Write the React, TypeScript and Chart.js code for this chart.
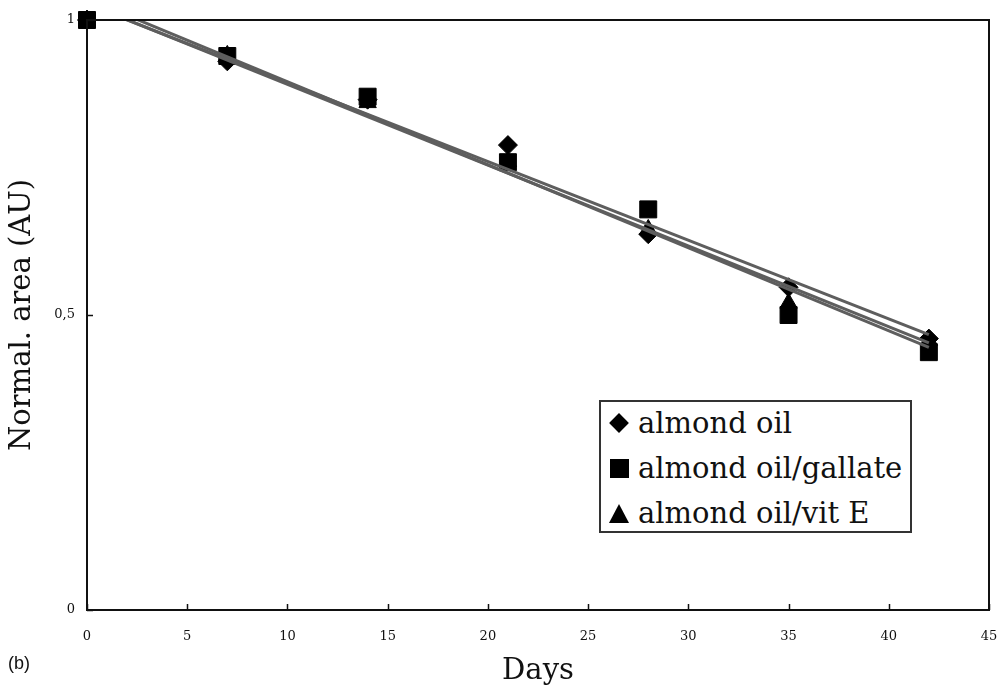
import React, { useEffect, useRef } from "react";
import { Chart, registerables } from "chart.js";

Chart.register(...registerables);

const days = [0, 7, 14, 21, 28, 35, 42];
const almondOil = [1, 0.93, 0.865, 0.788, 0.637, 0.547, 0.46];
const almondGallate = [1, 0.939, 0.87, 0.759, 0.679, 0.5, 0.437];
const almondVitE = [1, 0.94, 0.86, 0.76, 0.645, 0.52, 0.457];
const seriesNames = ["almond oil", "almond oil/gallate", "almond oil/vit E"];
const xTicks = [0, 5, 10, 15, 20, 25, 30, 35, 40, 45];
const yTicks = [0, 0.5, 1];

const SERIF = "'DejaVu Serif', 'Liberation Serif', serif";

function fitLine(xs: number[], ys: number[]) {
  const n = xs.length;
  const mx = xs.reduce((a, b) => a + b, 0) / n;
  const my = ys.reduce((a, b) => a + b, 0) / n;
  let sxy = 0;
  let sxx = 0;
  for (let i = 0; i < n; i++) {
    sxy += (xs[i] - mx) * (ys[i] - my);
    sxx += (xs[i] - mx) * (xs[i] - mx);
  }
  const b = sxy / sxx;
  const a = my - b * mx;
  const x0 = xs[0];
  const x1 = xs[n - 1];
  return [
    { x: x0, y: a + b * x0 },
    { x: x1, y: a + b * x1 },
  ];
}

const pts = (ys: number[]) => days.map((d, i) => ({ x: d, y: ys[i] }));

const frame = {
  id: "frame",
  afterDatasetsDraw(chart: any) {
    const { ctx, chartArea, scales } = chart;
    ctx.save();
    ctx.strokeStyle = "#111";
    ctx.lineWidth = 2;
    ctx.strokeRect(chartArea.left, chartArea.top, chartArea.right - chartArea.left, chartArea.bottom - chartArea.top);
    ctx.lineWidth = 1.5;
    ctx.beginPath();
    xTicks.forEach((t) => {
      const px = Math.round(scales.x.getPixelForValue(t)) + 0.5;
      ctx.moveTo(px, chartArea.bottom);
      ctx.lineTo(px, chartArea.bottom - 6);
    });
    yTicks.forEach((t) => {
      const py = Math.round(scales.y.getPixelForValue(t)) + 0.5;
      ctx.moveTo(chartArea.left, py);
      ctx.lineTo(chartArea.left + 6, py);
    });
    ctx.stroke();
    ctx.restore();
  },
};

export default function App() {
  const ref = useRef<HTMLCanvasElement | null>(null);
  useEffect(() => {
    if (!ref.current) return;
    const lineStyle = (data: any) => ({
      type: "line" as const,
      data,
      borderColor: "#5e5e5e",
      borderWidth: 3,
      pointRadius: 0,
      fill: false,
      showLine: true,
    });
    const markerStyle = (data: any, style: string, r: number, label: string) => ({
      type: "scatter" as const,
      label,
      data,
      pointStyle: style,
      pointRadius: r,
      pointBackgroundColor: "#000",
      pointBorderColor: "#000",
      pointBorderWidth: 1,
      showLine: false,
      clip: false,
    });
    const chart = new Chart(ref.current, {
      type: "scatter",
      data: {
        datasets: [
          lineStyle(fitLine(days, almondOil)),
          lineStyle(fitLine(days, almondGallate)),
          lineStyle(fitLine(days, almondVitE)),
          markerStyle(pts(almondOil), "rectRot", 9.5, seriesNames[0]),
          markerStyle(pts(almondVitE), "triangle", 10, seriesNames[2]),
          markerStyle(pts(almondGallate), "rect", 12, seriesNames[1]),
        ] as any,
      },
      options: {
        animation: false,
        responsive: false,
        layout: { padding: { top: 20, right: 14, left: 0, bottom: 0 } },
        plugins: { legend: { display: false }, tooltip: { enabled: false } },
        scales: {
          x: {
            type: "linear",
            min: 0,
            max: 45,
            afterBuildTicks: (s: any) => {
              s.ticks = xTicks.map((v) => ({ value: v }));
            },
            afterFit: (s: any) => {
              s.height = 80;
              s.paddingLeft = 0;
              s.paddingRight = 0;
            },
            grid: { display: false, drawTicks: false },
            border: { display: false },
            ticks: {
              color: "#111",
              padding: 19,
              maxRotation: 0,
              font: { family: SERIF, size: 13 },
              callback: (v: any) => String(v),
            },
            title: {
              display: true,
              text: "Days",
              color: "#111",
              font: { family: SERIF, size: 29 },
              padding: { top: 0, bottom: 1 },
            },
          },
          y: {
            type: "linear",
            min: 0,
            max: 1,
            afterBuildTicks: (s: any) => {
              s.ticks = yTicks.map((v) => ({ value: v }));
            },
            afterFit: (s: any) => {
              s.width = 87;
              s.paddingTop = 0;
              s.paddingBottom = 0;
            },
            grid: { display: false, drawTicks: false },
            border: { display: false },
            ticks: {
              color: "#111",
              padding: 12,
              font: { family: SERIF, size: 13 },
              callback: (v: any) => String(v).replace(".", ","),
            },
            title: {
              display: true,
              text: "Normal. area (AU)",
              color: "#111",
              font: { family: SERIF, size: 29 },
              padding: { top: 5, bottom: 0 },
            },
          },
        },
      },
      plugins: [frame],
    });
    return () => chart.destroy();
  }, []);

  const marker = (kind: number) => {
    if (kind === 0)
      return (
        <span style={{ display: "inline-block", width: 22, height: 22, position: "relative", marginRight: 8 }}>
          <span
            style={{
              position: "absolute",
              left: 4,
              top: 4,
              width: 14,
              height: 14,
              background: "#000",
              transform: "rotate(45deg)",
            }}
          />
        </span>
      );
    if (kind === 1)
      return (
        <span style={{ display: "inline-block", width: 22, height: 22, position: "relative", marginRight: 8 }}>
          <span style={{ position: "absolute", left: 2, top: 2, width: 19, height: 19, background: "#000" }} />
        </span>
      );
    return (
      <span style={{ display: "inline-block", width: 22, height: 22, position: "relative", marginRight: 8 }}>
        <span
          style={{
            position: "absolute",
            left: 1,
            top: 2,
            width: 0,
            height: 0,
            borderLeft: "10px solid transparent",
            borderRight: "10px solid transparent",
            borderBottom: "19px solid #000",
          }}
        />
      </span>
    );
  };

  return (
    <div style={{ position: "fixed", left: 0, top: 0, width: 1003, height: 690, background: "#fff" }}>
      <canvas ref={ref} width={1003} height={690} style={{ display: "block" }} />
      <div
        style={{
          position: "absolute",
          left: 599,
          top: 400,
          width: 309,
          height: 129,
          border: "2px solid #333",
          background: "#fff",
          fontFamily: SERIF,
          fontSize: 29,
          color: "#111",
        }}
      >
        {seriesNames.map((name, i) => (
          <div
            key={name}
            style={{
              position: "absolute",
              left: 7,
              top: 3 + i * 45,
              height: 36,
              display: "flex",
              alignItems: "center",
              whiteSpace: "nowrap",
            }}
          >
            {marker(i)}
            <span>{name}</span>
          </div>
        ))}
      </div>
      <div
        style={{
          position: "absolute",
          left: 8,
          top: 653,
          fontFamily: "'Liberation Sans', Arial, sans-serif",
          fontSize: 18,
          color: "#111",
        }}
      >
        (b)
      </div>
    </div>
  );
}
